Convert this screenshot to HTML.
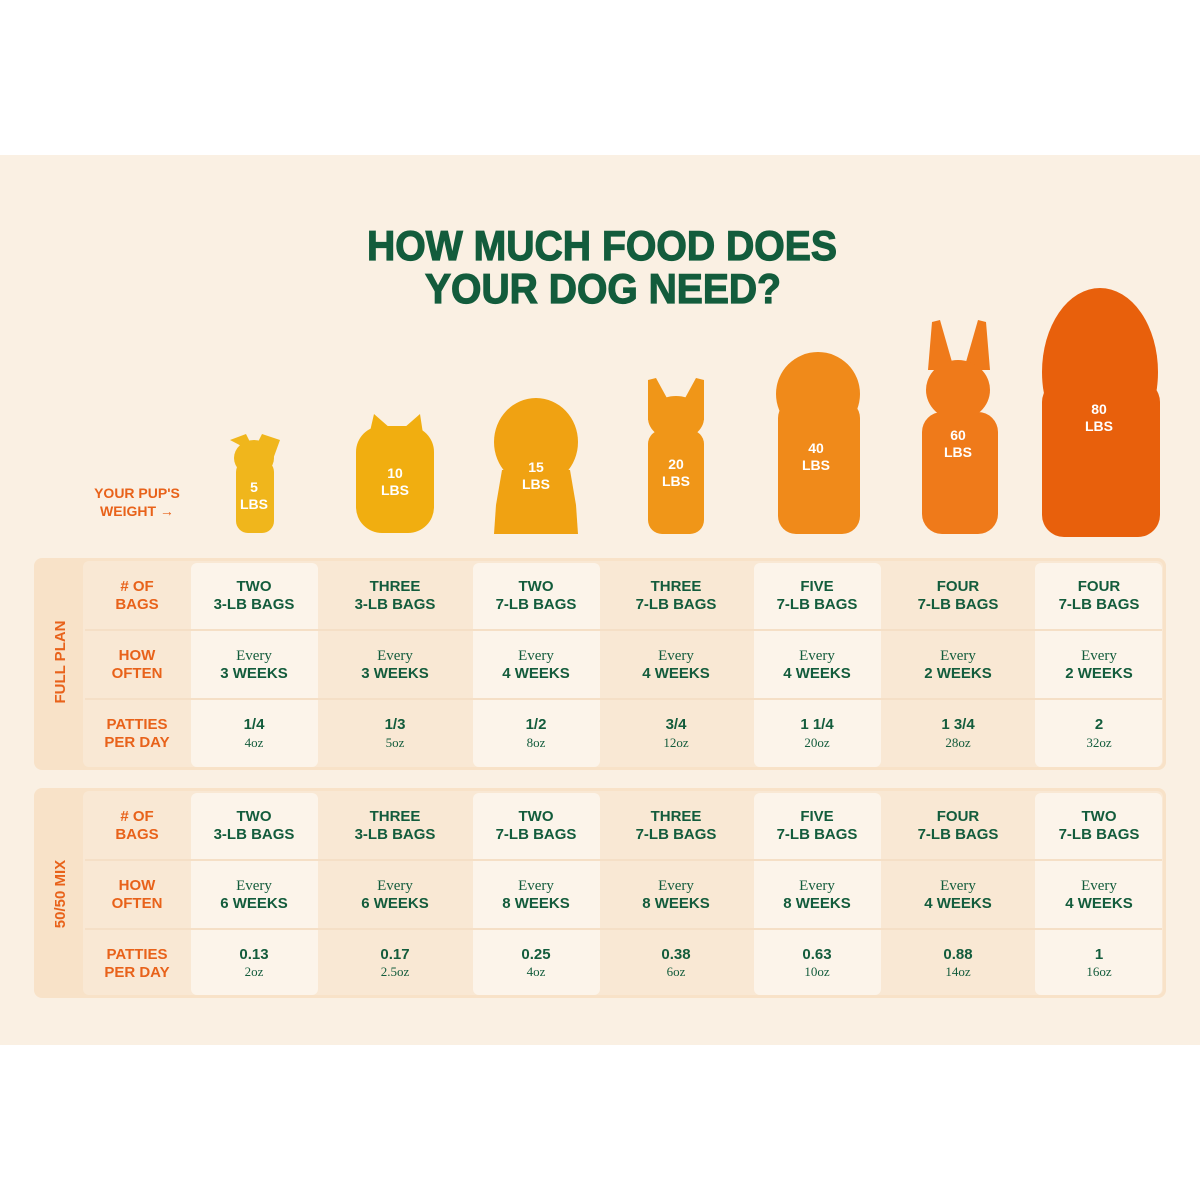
<!DOCTYPE html>
<html><head><meta charset="utf-8"><style>
html,body{margin:0;padding:0;background:#fff;}
svg{display:block}
.t{font-family:"Liberation Sans",sans-serif;font-weight:bold;}
.s{font-family:"Liberation Serif",serif;}
</style></head><body>
<svg width="1200" height="1200" viewBox="0 0 1200 1200" xmlns="http://www.w3.org/2000/svg">
<rect width="1200" height="1200" fill="#fff"/>
<rect x="0" y="155" width="1200" height="890" fill="#faf0e3"/>
<g class="t" fill="#135c3c" stroke="#135c3c" stroke-width="1.2" text-anchor="middle">
<text x="602" y="260" font-size="42" textLength="470" lengthAdjust="spacingAndGlyphs">HOW MUCH FOOD DOES</text>
<text x="603" y="303" font-size="42" textLength="356" lengthAdjust="spacingAndGlyphs">YOUR DOG NEED?</text>
</g>
<g class="t" fill="#e8621a" font-size="14" text-anchor="middle">
<text x="137" y="498">YOUR PUP'S</text><text x="137" y="516">WEIGHT →</text>
</g>
<!-- dogs -->
<g fill="#f0b61c">
<path d="M230 440 L246 434 L252 446 L256 446 L262 434 L280 440 L272 462 Z"/>
<ellipse cx="254" cy="458" rx="20" ry="18"/>
<rect x="236" y="460" width="38" height="73" rx="12"/>
</g>
<g fill="#f1ae10">
<path d="M368 440 L374 414 L390 428 L404 428 L420 414 L424 440 Z"/>
<rect x="356" y="426" width="78" height="107" rx="26"/>
</g>
<g fill="#f0a212">
<ellipse cx="536" cy="442" rx="42" ry="44"/>
<path d="M502 470 L570 470 L576 505 L578 534 L494 534 L496 505 Z"/>
</g>
<g fill="#f09618">
<path d="M648 380 L656 378 L668 400 L684 400 L696 378 L704 380 L704 420 L648 420 Z"/>
<ellipse cx="676" cy="418" rx="28" ry="22"/>
<rect x="648" y="430" width="56" height="104" rx="14"/>
</g>
<g fill="#f08a1a">
<ellipse cx="818" cy="394" rx="42" ry="42"/>
<rect x="778" y="400" width="82" height="134" rx="18"/>
</g>
<g fill="#ef7a1a">
<path d="M932 322 L940 320 L952 362 L966 362 L978 320 L986 322 L990 370 L928 370 Z"/>
<ellipse cx="958" cy="390" rx="32" ry="30"/>
<rect x="922" y="412" width="76" height="122" rx="20"/>
</g>
<g fill="#e8600c">
<ellipse cx="1100" cy="372" rx="58" ry="84"/>
<rect x="1042" y="380" width="118" height="157" rx="22"/>
</g>
<g class="t" fill="#fff" font-size="14" text-anchor="middle">
<text x="254" y="492">5</text><text x="254" y="509">LBS</text>
<text x="395" y="478">10</text><text x="395" y="495">LBS</text>
<text x="536" y="472">15</text><text x="536" y="489">LBS</text>
<text x="676" y="469">20</text><text x="676" y="486">LBS</text>
<text x="816" y="453">40</text><text x="816" y="470">LBS</text>
<text x="958" y="440">60</text><text x="958" y="457">LBS</text>
<text x="1099" y="414">80</text><text x="1099" y="431">LBS</text>
</g>
<!-- panels -->
<rect x="34" y="558" width="1132" height="212" rx="8" fill="#f8e2c8"/>
<rect x="83" y="561" width="1080" height="206" rx="6" fill="#f9e8d4"/>
<rect x="34" y="788" width="1132" height="210" rx="8" fill="#f8e2c8"/>
<rect x="83" y="791" width="1080" height="204" rx="6" fill="#f9e8d4"/>
<g fill="#fcf4ea">
<rect x="191" y="563" width="127" height="204" rx="6"/><rect x="473" y="563" width="127" height="204" rx="6"/>
<rect x="754" y="563" width="127" height="204" rx="6"/><rect x="1035" y="563" width="127" height="204" rx="6"/>
<rect x="191" y="793" width="127" height="202" rx="6"/><rect x="473" y="793" width="127" height="202" rx="6"/>
<rect x="754" y="793" width="127" height="202" rx="6"/><rect x="1035" y="793" width="127" height="202" rx="6"/>
</g>
<g stroke="#f5dfc6" stroke-width="2">
<line x1="85" y1="630" x2="1162" y2="630"/><line x1="85" y1="699" x2="1162" y2="699"/>
<line x1="85" y1="860" x2="1162" y2="860"/><line x1="85" y1="929" x2="1162" y2="929"/>
</g>
<g class="t" fill="#e8621a" font-size="15" text-anchor="middle">
<text transform="translate(65,662) rotate(-90)">FULL PLAN</text>
<text transform="translate(65,894) rotate(-90)">50/50 MIX</text>
<text x="137" y="591">#&#160;OF</text><text x="137" y="609">BAGS</text>
<text x="137" y="660">HOW</text><text x="137" y="678">OFTEN</text>
<text x="137" y="729">PATTIES</text><text x="137" y="747">PER DAY</text>
<text x="137" y="821">#&#160;OF</text><text x="137" y="839">BAGS</text>
<text x="137" y="890">HOW</text><text x="137" y="908">OFTEN</text>
<text x="137" y="959">PATTIES</text><text x="137" y="977">PER DAY</text>
</g>
<g fill="#135c3c" text-anchor="middle" font-size="15">
<g class="t">
<text x="254" y="591">TWO</text><text x="254" y="609">3-LB BAGS</text>
<text x="395" y="591">THREE</text><text x="395" y="609">3-LB BAGS</text>
<text x="536" y="591">TWO</text><text x="536" y="609">7-LB BAGS</text>
<text x="676" y="591">THREE</text><text x="676" y="609">7-LB BAGS</text>
<text x="817" y="591">FIVE</text><text x="817" y="609">7-LB BAGS</text>
<text x="958" y="591">FOUR</text><text x="958" y="609">7-LB BAGS</text>
<text x="1099" y="591">FOUR</text><text x="1099" y="609">7-LB BAGS</text>
<text x="254" y="678">3 WEEKS</text><text x="395" y="678">3 WEEKS</text><text x="536" y="678">4 WEEKS</text><text x="676" y="678">4 WEEKS</text><text x="817" y="678">4 WEEKS</text><text x="958" y="678">2 WEEKS</text><text x="1099" y="678">2 WEEKS</text>
<text x="254" y="729">1/4</text><text x="395" y="729">1/3</text><text x="536" y="729">1/2</text><text x="676" y="729">3/4</text><text x="817" y="729">1 1/4</text><text x="958" y="729">1 3/4</text><text x="1099" y="729">2</text>
<text x="254" y="821">TWO</text><text x="254" y="839">3-LB BAGS</text>
<text x="395" y="821">THREE</text><text x="395" y="839">3-LB BAGS</text>
<text x="536" y="821">TWO</text><text x="536" y="839">7-LB BAGS</text>
<text x="676" y="821">THREE</text><text x="676" y="839">7-LB BAGS</text>
<text x="817" y="821">FIVE</text><text x="817" y="839">7-LB BAGS</text>
<text x="958" y="821">FOUR</text><text x="958" y="839">7-LB BAGS</text>
<text x="1099" y="821">TWO</text><text x="1099" y="839">7-LB BAGS</text>
<text x="254" y="908">6 WEEKS</text><text x="395" y="908">6 WEEKS</text><text x="536" y="908">8 WEEKS</text><text x="676" y="908">8 WEEKS</text><text x="817" y="908">8 WEEKS</text><text x="958" y="908">4 WEEKS</text><text x="1099" y="908">4 WEEKS</text>
<text x="254" y="959">0.13</text><text x="395" y="959">0.17</text><text x="536" y="959">0.25</text><text x="676" y="959">0.38</text><text x="817" y="959">0.63</text><text x="958" y="959">0.88</text><text x="1099" y="959">1</text>
</g>
<g class="s">
<text x="254" y="660">Every</text><text x="395" y="660">Every</text><text x="536" y="660">Every</text><text x="676" y="660">Every</text><text x="817" y="660">Every</text><text x="958" y="660">Every</text><text x="1099" y="660">Every</text>
<text x="254" y="890">Every</text><text x="395" y="890">Every</text><text x="536" y="890">Every</text><text x="676" y="890">Every</text><text x="817" y="890">Every</text><text x="958" y="890">Every</text><text x="1099" y="890">Every</text>
</g>
<g class="s" font-size="13">
<text x="254" y="747">4oz</text><text x="395" y="747">5oz</text><text x="536" y="747">8oz</text><text x="676" y="747">12oz</text><text x="817" y="747">20oz</text><text x="958" y="747">28oz</text><text x="1099" y="747">32oz</text>
<text x="254" y="976">2oz</text><text x="395" y="976">2.5oz</text><text x="536" y="976">4oz</text><text x="676" y="976">6oz</text><text x="817" y="976">10oz</text><text x="958" y="976">14oz</text><text x="1099" y="976">16oz</text>
</g>
</g>
</svg>
</body></html>
